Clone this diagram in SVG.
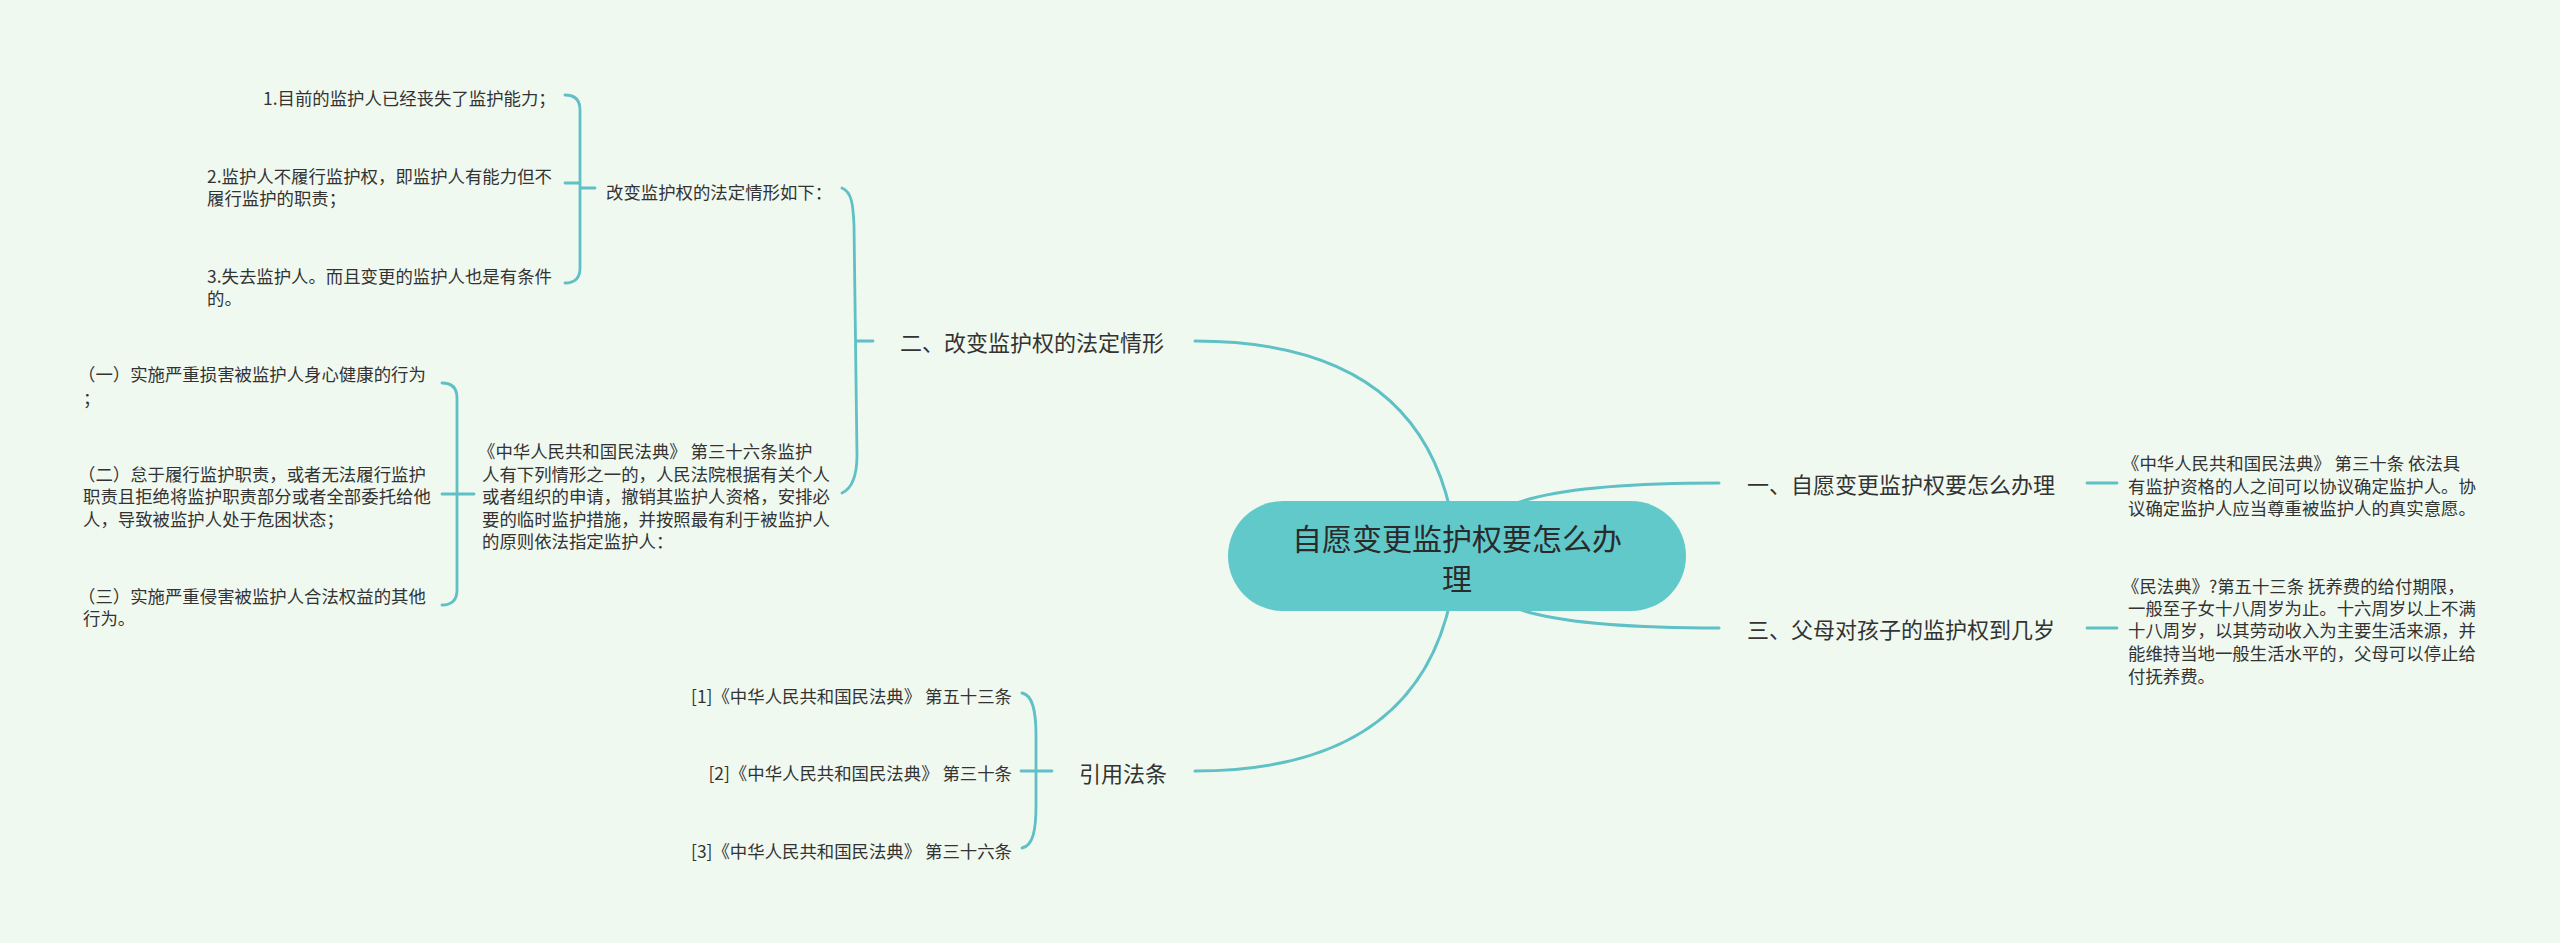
<svg xmlns="http://www.w3.org/2000/svg" width="2560" height="943" viewBox="0 0 2560 943">
<style>
.bg{fill:#f0f9ef}
.ln{fill:none;stroke:#5fc0c6;stroke-width:3;stroke-linecap:round}
.br{fill:none;stroke:#5fc0c6;stroke-width:2.8;stroke-linecap:round}
text{font-family:"Noto Sans CJK SC","Microsoft YaHei",sans-serif;fill:#333;dominant-baseline:central}
.s{font-size:17.4px}
.m{font-size:22px}
.r{font-size:30px;fill:#2a2a2a}
</style>
<rect class="bg" x="0" y="0" width="2560" height="943"/>
<g id="connectors">
<path class="ln" d="M1195,341 Q1440,341 1457,556"/>
<path class="ln" d="M1195,771 Q1440,771 1457,556"/>
<path class="ln" d="M1457,556 C1475,500 1550,483 1719,483"/>
<path class="ln" d="M1457,556 C1475,612 1550,628 1719,628"/>
<path class="br" d="M842,188 C852,192 853,205 854,225 L857,455 C857,475 853,488 842,493 M856,341 L873,341"/>
<path class="br" d="M565,95 Q580,95 580,110 L580,268 Q580,283 565,283 M565,183 L580,183 M580,188 L595,188"/>
<path class="br" d="M442,383 Q457,383 457,398 L457,590 Q457,605 442,605 M442,494 L474,494"/>
<path class="br" d="M1022,693 C1033,695 1036,712 1036,735 L1036,806 C1036,830 1033,846 1022,848 M1021,771 L1052,771"/>
<path class="br" d="M2087,483 L2117,483 M2087,628 L2117,628"/>
</g>
<g id="root">
<rect x="1228" y="501" width="458" height="110" rx="55" fill="#62c9cb"/>
<text class="r" x="1457" y="537" text-anchor="middle">自愿变更监护权要怎么办</text>
<text class="r" x="1457" y="577" text-anchor="middle">理</text>
</g>
<g id="n-er">
<text class="m" x="900" y="341">二、改变监护权的法定情形</text>
</g>
<g id="n-gaibian">
<text class="s" x="606" y="191">改变监护权的法定情形如下：</text>
</g>
<g id="n-g1"><text class="s" x="263" y="97">1.目前的监护人已经丧失了监护能力；</text></g>
<g id="n-g2"><text class="s" x="207" y="175">2.监护人不履行监护权，即监护人有能力但不</text><text class="s" x="207" y="197">履行监护的职责；</text></g>
<g id="n-g3"><text class="s" x="207" y="275">3.失去监护人。而且变更的监护人也是有条件</text><text class="s" x="207" y="297">的。</text></g>
<g id="n-law36">
<text class="s" x="478" y="450">《中华人民共和国民法典》 第三十六条监护</text>
<text class="s" x="482" y="473">人有下列情形之一的，人民法院根据有关个人</text>
<text class="s" x="482" y="495">或者组织的申请，撤销其监护人资格，安排必</text>
<text class="s" x="482" y="518">要的临时监护措施，并按照最有利于被监护人</text>
<text class="s" x="482" y="540">的原则依法指定监护人：</text>
</g>
<g id="n-c1"><text class="s" x="78" y="373">（一）实施严重损害被监护人身心健康的行为</text><text class="s" x="83" y="397">；</text></g>
<g id="n-c2"><text class="s" x="78" y="473">（二）怠于履行监护职责，或者无法履行监护</text><text class="s" x="83" y="495">职责且拒绝将监护职责部分或者全部委托给他</text><text class="s" x="83" y="518">人，导致被监护人处于危困状态；</text></g>
<g id="n-c3"><text class="s" x="78" y="595">（三）实施严重侵害被监护人合法权益的其他</text><text class="s" x="83" y="617">行为。</text></g>
<g id="n-yinyong"><text class="m" x="1079" y="772">引用法条</text></g>
<g id="n-r1"><text class="s" x="1012" y="695" text-anchor="end">[1]《中华人民共和国民法典》 第五十三条</text></g>
<g id="n-r2"><text class="s" x="1012" y="772" text-anchor="end">[2]《中华人民共和国民法典》 第三十条</text></g>
<g id="n-r3"><text class="s" x="1012" y="850" text-anchor="end">[3]《中华人民共和国民法典》 第三十六条</text></g>
<g id="n-yi"><text class="m" x="1747" y="483">一、自愿变更监护权要怎么办理</text></g>
<g id="n-yi-d">
<text class="s" x="2122" y="462">《中华人民共和国民法典》 第三十条 依法具</text>
<text class="s" x="2128" y="485">有监护资格的人之间可以协议确定监护人。协</text>
<text class="s" x="2128" y="507">议确定监护人应当尊重被监护人的真实意愿。</text>
</g>
<g id="n-san"><text class="m" x="1747" y="628">三、父母对孩子的监护权到几岁</text></g>
<g id="n-san-d">
<text class="s" x="2122" y="585">《民法典》?第五十三条 抚养费的给付期限，</text>
<text class="s" x="2128" y="607">一般至子女十八周岁为止。十六周岁以上不满</text>
<text class="s" x="2128" y="629">十八周岁，以其劳动收入为主要生活来源，并</text>
<text class="s" x="2128" y="652">能维持当地一般生活水平的，父母可以停止给</text>
<text class="s" x="2128" y="675">付抚养费。</text>
</g>
</svg>
